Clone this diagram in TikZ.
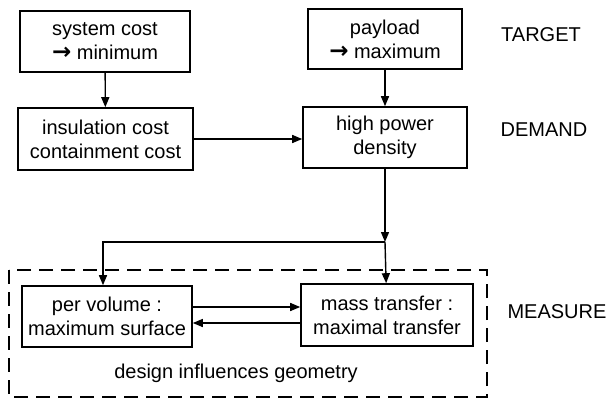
\documentclass[tikz,border=0pt]{standalone}
\usepackage{fontspec}
\setmainfont{Liberation Sans}
\newfontfamily\arrowfont{DejaVu Sans}
\usetikzlibrary{arrows.meta}
\newcommand{\goesto}{{\arrowfont\bfseries\fontsize{23}{24}\selectfont →}}
\begin{document}
\begin{tikzpicture}[x=1pt, y=-1pt,
    font=\fontsize{20}{24}\selectfont,
    box/.style={draw, line width=1.6pt, align=center, inner sep=0pt},
    flow/.style={-{Triangle[length=10pt,width=8pt]}, line width=1.4pt}]
        \useasboundingbox (0,0) rectangle (608,402);

        % Boxes
        \node[box, minimum width=170, minimum height=61] (sysCost) at (105,41.5) {system cost\\\goesto\ minimum};
        \node[box, minimum width=154, minimum height=60] (payload) at (385,39) {payload\\\goesto\ maximum};
        \node[box, minimum width=175, minimum height=62] (insul) at (105.5,139) {insulation cost\\containment cost};
        \node[box, minimum width=164, minimum height=61] (power) at (385,137.5) {high power\\density};
        \node[box, minimum width=170, minimum height=61] (volume) at (107,316.5) {per volume :\\maximum surface};
        \node[box, minimum width=172, minimum height=62] (mass) at (387,315) {mass transfer :\\maximal transfer};

        % Levels
        \node (target) at (541,35) {TARGET};
        \node (demand) at (544,130) {DEMAND};
        \node (measure) at (557,312) {MEASURE};

        % Measure zone
        \draw[line width=2.2pt, dash pattern=on 14pt off 8pt] (9,270) rectangle (487,397);
        \node (design) at (236,373) {design influences geometry};

        % Connectors
        \coordinate (split) at (385,242);
        \coordinate (corner) at (103,242);
        \draw[flow] (sysCost) -- (insul);
        \draw[flow] (payload) -- (power);
        \draw[flow] (insul.east) -- (insul.east -| power.west);
        \draw[flow] (power) -- (split);
        \draw[flow] (split) -- (mass);
        \draw[flow] (split) -- (corner) -- (corner |- volume.north);
        \draw[flow] ([yshift=9.5pt]volume.east) -- ([yshift=9.5pt]volume.east -| mass.west);
        \draw[flow] ([yshift=-6.5pt]volume.east -| mass.west) -- ([yshift=-6.5pt]volume.east);

    \end{tikzpicture}
\end{document}
